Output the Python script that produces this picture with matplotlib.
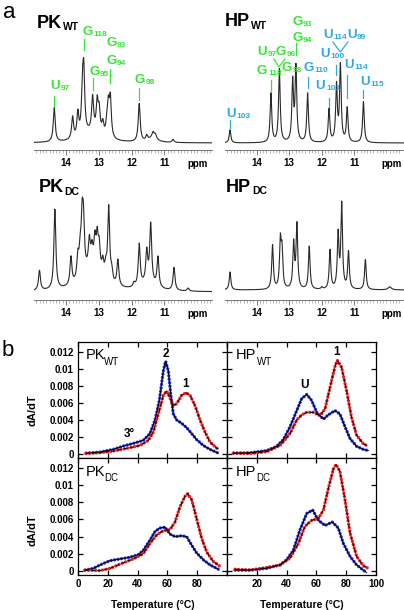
import matplotlib
matplotlib.use('Agg')
import matplotlib.pyplot as plt
import numpy as np

plt.rcParams['font.family'] = ['Liberation Sans', 'DejaVu Sans']

W, H = 404, 610
GREEN = '#33e633'
CYAN = '#2fa9e2'
BLUE = '#2233e6'
RED = '#ee2020'

# ---- imino proton peak tables (ppm, height above baseline, half width)
pkwt_ppm = [14.36, 13.80, 13.64, 13.50, 13.46, 13.19, 13.05, 12.99, 12.88, 12.76, 12.71, 12.65,
            11.77, 11.54, 11.35, 11.28, 10.74, 13.2, 11.35]
pkwt_h = [34, 22, 24, 40, 58, 34, 30, 22, 12, 10, 30, 38, 38, 5, 5, 4, 3, 10, 5]
pkwt_w = [0.035] * 17 + [0.35, 0.15]

hpwt_ppm = [14.82, 13.56, 13.30, 12.89, 12.79, 12.43, 11.77, 11.54, 11.42, 11.21, 10.71]
hpwt_h = [13, 49, 73, 60, 74, 49, 33, 56, 76, 34, 41]
hpwt_w = [0.03] * 11

pkdc_ppm = [14.81, 14.34, 13.85, 13.64, 13.57, 13.51, 13.47, 13.29, 13.21, 13.12, 13.05, 12.99,
            12.88, 12.79, 12.70, 12.61, 12.42, 11.93, 11.77, 11.54, 11.42, 11.20, 10.71, 10.28,
            13.2, 11.5]
pkdc_h = [20, 80, 28, 22, 24, 50, 46, 26, 16, 26, 30, 24, 14, 12, 74, 10, 26, 4, 42, 30, 58, 30, 23, 3,
          24, 8]
pkdc_w = [0.035] * 24 + [0.35, 0.25]

hpdc_ppm = [14.82, 13.51, 13.27, 13.22, 12.86, 12.76, 12.38, 11.99, 11.74, 11.49, 11.38, 11.17,
            10.65, 9.90]
hpdc_h = [18, 44, 46, 36, 45, 64, 43, 2, 39, 54, 84, 37, 30, 3]
hpdc_w = [0.03] * 13 + [0.06]

# ---- derivative melting profiles (temperature, dA/dT)
pkwt_blue_T = [5.4, 14.8, 23.7, 30.4, 37, 43.8, 48.3, 51.7, 54.6, 57.3, 58.8, 60.6, 62.2, 64,
               66.2, 69.6, 72.9, 76.3, 79.6, 84.1, 88.6, 94.2]
pkwt_blue = [0.0001, 0.00023, 0.00054, 0.00093, 0.00124, 0.0016, 0.0024, 0.004, 0.0063, 0.0098,
             0.0109, 0.0098, 0.0071, 0.0047, 0.004, 0.0036, 0.0031, 0.0024, 0.0017, 0.001,
             0.00054, 0.0001]
pkwt_red_T = [5.4, 14.8, 23.7, 32.7, 41.6, 47.2, 50.6, 53.9, 57.3, 59.5, 61.7, 64, 66.2, 69.6,
              72.5, 75.2, 78.5, 81.9, 85.2, 88.6, 93, 94.9]
pkwt_red = [0.00005, 0.00015, 0.00035, 0.00066, 0.001, 0.0016, 0.0026, 0.0047, 0.0069, 0.0074,
            0.0066, 0.0057, 0.0059, 0.0069, 0.0072, 0.0069, 0.0057, 0.004, 0.0026, 0.0014,
            0.0007, 0.0005]

hpwt_blue_T = [4.3, 15.4, 26.6, 33.3, 37.8, 42.3, 46.8, 50.1, 53.5, 56.8, 60.2, 64.7, 68, 72.5,
               75.8, 79.2, 82.6, 87, 91.5, 94.9]
hpwt_blue = [0.0001, 0.00015, 0.0004, 0.0009, 0.0017, 0.0032, 0.0051, 0.0065, 0.007, 0.0063,
             0.0049, 0.0041, 0.0046, 0.0051, 0.0047, 0.0032, 0.0018, 0.0009, 0.00054, 0.0004]
hpwt_red_T = [4.3, 15.4, 26.6, 35.6, 42.3, 46.8, 50.1, 53.5, 57.9, 62.4, 65.8, 69.1, 72.5, 74,
              76.9, 80.3, 83.6, 87, 91.5, 94.9]
hpwt_red = [0.0001, 0.00005, 0.00027, 0.001, 0.0024, 0.004, 0.0046, 0.0049, 0.0049, 0.0045,
            0.0053, 0.0078, 0.0103, 0.011, 0.0102, 0.0074, 0.0043, 0.0022, 0.0012, 0.0009]

pkdc_blue_T = [4.7, 10.3, 14.8, 21.5, 28.2, 34.9, 40.5, 43.8, 48.3, 51.7, 55, 58.4, 61.7, 65.1,
               69.6, 72.9, 76.3, 79.6, 84.1, 88.6, 94.2]
pkdc_blue = [0.0001, 0.0003, 0.0007, 0.0012, 0.0014, 0.0016, 0.0019, 0.0024, 0.0036, 0.0046,
             0.005, 0.0051, 0.0043, 0.004, 0.0041, 0.004, 0.003, 0.0021, 0.0013, 0.0007, 0.0002]
pkdc_red_T = [4.7, 14.8, 21.5, 28.2, 37.1, 43.8, 48.3, 52.8, 57.3, 61.7, 65.1, 68.5, 71.8, 73.6,
              76.3, 79.6, 83, 86.4, 90.8, 94.9]
pkdc_red = [0.0001, 0.00004, 0.0003, 0.0008, 0.0014, 0.002, 0.0032, 0.0042, 0.0047, 0.0048,
            0.0057, 0.0075, 0.0087, 0.009, 0.0083, 0.0061, 0.0038, 0.0022, 0.0011, 0.0006]

hpdc_blue_T = [5.4, 15.4, 26.6, 35.6, 40, 44.5, 49, 53.5, 57.5, 61.3, 65.8, 70.7, 74.7, 78.1,
               82.6, 87, 93.7]
hpdc_blue = [0.0001, 0.0001, 0.0003, 0.0007, 0.0013, 0.0024, 0.0048, 0.0067, 0.0071, 0.0059,
             0.0053, 0.0057, 0.005, 0.0032, 0.0017, 0.0007, -0.0002]
hpdc_red_T = [5.4, 15.4, 26.6, 35.6, 42.3, 47.9, 52.3, 56.8, 61.3, 64.7, 68, 71.4, 73.2, 75.8,
              79.2, 82.6, 87, 91.5, 94.9]
hpdc_red = [0.0002, 0.0001, 0.0004, 0.0007, 0.0015, 0.0032, 0.0052, 0.0059, 0.0061, 0.0071,
            0.0096, 0.0119, 0.0124, 0.0116, 0.0083, 0.0044, 0.0017, 0.0006, 0.0003]

temp_ticks = [0, 20, 40, 60, 80, 100]
dadt_ticks = [0, 0.002, 0.004, 0.006, 0.008, 0.01, 0.012]
dadt_labels = ['0', '0.002', '0.004', '0.006', '0.008', '0.01', '0.012']

# letter widths (em) of Arial-like bold capitals, used to hang the subscripts
EM = {'G': 0.778, 'U': 0.722, 'PK': 1.389, 'HP': 1.389}


def box(x0, y0, x1, y1):
    return [x0 / W, 1 - y1 / H, (x1 - x0) / W, (y1 - y0) / H]


def spectrum(ppm, centers, heights, widths):
    y = np.zeros_like(ppm)
    for c, h, w in zip(centers, heights, widths):
        y += h * w ** 2 / ((ppm - c) ** 2 + w ** 2)
    return y


def nmr_axes(rect, xlim, ylim, centers, heights, widths, ppm_x):
    ax = fig.add_axes(rect)
    grid = np.linspace(xlim[0], xlim[1], 2500)
    ax.plot(grid, spectrum(grid, centers, heights, widths), color='#2a2a2a', lw=0.8)
    ax.set_xlim(xlim)
    ax.set_ylim(ylim)
    for s in ['top', 'left', 'right']:
        ax.spines[s].set_visible(False)
    ax.spines['bottom'].set_color('#777777')
    ax.spines['bottom'].set_linewidth(0.7)
    ax.set_yticks([])
    ax.set_xticks([14, 13, 12, 11])
    ax.set_xticks(np.arange(9.6, 15.0, 0.1), minor=True)
    ax.tick_params(axis='x', which='major', direction='out', length=3.5, width=0.7,
                   color='#777777', labelsize=7, pad=2.5)
    ax.tick_params(axis='x', which='minor', direction='out', length=1.8, width=0.5,
                   color='#999999')
    for t in ax.get_xticklabels():
        t.set_fontweight('bold')
    ax.annotate('ppm', xy=(ppm_x, 0), xycoords=ax.get_xaxis_transform(),
                xytext=(0, -6.2), textcoords='offset points', ha='center', va='top',
                fontsize=7, fontweight='bold')
    ax.patch.set_visible(False)
    return ax


def tag(ax, x, y, main, sub, color, size=9.5, subsize=6):
    ax.text(x, y, main, color=color, fontsize=size, fontweight='bold',
            ha='left', va='center', clip_on=False)
    ax.annotate(sub, xy=(x, y), xycoords='data',
                xytext=(EM[main] * size + 0.6, -0.22 * size), textcoords='offset points',
                color=color, fontsize=subsize, fontweight='bold', ha='left', va='center')


def stem(ax, x, y0, y1, color):
    ax.plot([x, x], [y0, y1], color=color, lw=0.9, clip_on=False)


def vee(ax, xa, xm, xb, ytop, ybot, color):
    ax.plot([xa, xm, xb], [ytop, ybot, ytop], color=color, lw=0.9, clip_on=False)


fig = plt.figure(figsize=(W / 100, H / 100), dpi=100)

# ---------------- panel a
ax1 = nmr_axes(box(34, 0, 212, 150), (14.976, 9.552), (-7, 143), pkwt_ppm, pkwt_h, pkwt_w, 10.0)
ax2 = nmr_axes(box(225, 0, 404, 150), (14.975, 9.46), (-7, 143), hpwt_ppm, hpwt_h, hpwt_w, 9.84)
ax3 = nmr_axes(box(34, 160, 212, 300), (14.976, 9.552), (-8, 132), pkdc_ppm, pkdc_h, pkdc_w, 10.0)
ax4 = nmr_axes(box(225, 160, 404, 300), (14.975, 9.46), (-10, 130), hpdc_ppm, hpdc_h, hpdc_w, 9.84)

for ax, name, sub, x, y in [(ax1, 'PK', 'WT', 14.88, 120), (ax2, 'HP', 'WT', 14.97, 121),
                            (ax3, 'PK', 'DC', 14.84, 104), (ax4, 'HP', 'DC', 14.94, 103)]:
    tag(ax, x, y, name, sub, 'black', size=13, subsize=7.5)

# PK WT assignments
tag(ax1, 14.49, 57, 'U', '97', GREEN)
stem(ax1, 14.36, 47, 37, GREEN)
tag(ax1, 13.51, 111, 'G', '118', GREEN)
stem(ax1, 13.46, 104, 93, GREEN)
tag(ax1, 13.30, 71, 'G', '95', GREEN)
stem(ax1, 13.19, 65, 53, GREEN)
tag(ax1, 12.78, 100, 'G', '93', GREEN)
tag(ax1, 12.78, 82, 'G', '94', GREEN)
stem(ax1, 12.65, 74, 60, GREEN)
tag(ax1, 11.90, 63, 'G', '98', GREEN)
stem(ax1, 11.77, 55, 43, GREEN)

# HP WT assignments
tag(ax2, 14.94, 29, 'U', '103', CYAN)
stem(ax2, 14.82, 23, 15, CYAN)
tag(ax2, 13.99, 72, 'G', '118', GREEN)
stem(ax2, 13.56, 63, 52, GREEN)
tag(ax2, 13.99, 91, 'U', '97', GREEN)
tag(ax2, 13.41, 91, 'G', '96', GREEN)
vee(ax2, 13.47, 13.31, 13.13, 84, 76, GREEN)
tag(ax2, 13.22, 75, 'G', '98', GREEN)
tag(ax2, 12.91, 121, 'G', '93', GREEN)
tag(ax2, 12.91, 105, 'G', '94', GREEN)
stem(ax2, 12.79, 100, 88, GREEN)
tag(ax2, 12.57, 75, 'G', '110', CYAN)
stem(ax2, 12.43, 66, 55, CYAN)
tag(ax2, 12.18, 57, 'U', '101', CYAN)
stem(ax2, 11.77, 45, 36, CYAN)
tag(ax2, 12.05, 89, 'U', '100', CYAN)
stem(ax2, 11.54, 78, 68, CYAN)
tag(ax2, 11.96, 108, 'U', '114', CYAN)
tag(ax2, 11.22, 108, 'U', '99', CYAN)
vee(ax2, 11.65, 11.42, 11.19, 101, 91, CYAN)
tag(ax2, 11.31, 78, 'U', '114', CYAN)
stem(ax2, 11.21, 68, 45, CYAN)
tag(ax2, 10.82, 61, 'U', '115', CYAN)
stem(ax2, 10.71, 53, 45, CYAN)

# ---------------- panel b
melts = [
    (box(78, 342, 227, 458), pkwt_blue_T, pkwt_blue, pkwt_red_T, pkwt_red, 'PK', 'WT'),
    (box(227, 342, 376, 458), hpwt_blue_T, hpwt_blue, hpwt_red_T, hpwt_red, 'HP', 'WT'),
    (box(78, 458, 227, 575), pkdc_blue_T, pkdc_blue, pkdc_red_T, pkdc_red, 'PK', 'DC'),
    (box(227, 458, 376, 575), hpdc_blue_T, hpdc_blue, hpdc_red_T, hpdc_red, 'HP', 'DC'),
]
axes_b = []
for i, (rect, bt, bv, rt, rv, name, sub) in enumerate(melts):
    ax = fig.add_axes(rect)
    ax.plot(bt, bv, color=BLUE, lw=2.4, ls=(0, (0.05, 1.0)), dash_capstyle='round', zorder=2)
    ax.plot(rt, rv, color=RED, lw=2.4, ls=(0, (0.05, 1.0)), dash_capstyle='round', zorder=2)
    ax.plot(bt, bv, color='black', lw=0.7, zorder=3)
    ax.plot(rt, rv, color='black', lw=0.7, ls=(0, (4, 2.5)), zorder=3)
    ax.set_xlim(0, 100)
    ax.set_ylim(-0.00047, 0.01316)
    ax.set_xticks(temp_ticks)
    ax.set_yticks(dadt_ticks)
    ax.tick_params(direction='in', top=True, right=True, length=3.5, width=0.9, labelsize=7, pad=3)
    for s in ax.spines.values():
        s.set_linewidth(0.9)
    col = i % 2
    row = i // 2
    if col == 0:
        ax.set_yticklabels(dadt_labels, fontweight='bold')
        ax.set_ylabel('dA/dT', fontsize=8, fontweight='bold')
        ax.yaxis.set_label_coords(-0.275, 0.41 if row == 0 else 0.385)
    else:
        ax.set_yticklabels([])
    if row == 1:
        if col == 0:
            ax.set_xticklabels(['0', '20', '40', '60', '80', ''], fontweight='bold')
        else:
            ax.set_xticklabels(['', '20', '40', '60', '80', '100'], fontweight='bold')
        ax.set_xlabel('Temperature (°C)', fontsize=7.5, fontweight='bold', labelpad=8)
    else:
        ax.set_xticklabels([])
    tx = 0.054 if col == 0 else 0.058
    ax.text(tx, 0.885 if row == 0 else 0.88, name, transform=ax.transAxes, fontsize=10.5,
            ha='left', va='center')
    ax.text(tx + 0.12 + (0.02 if col == 1 else 0), 0.83, sub, transform=ax.transAxes,
            fontsize=7, ha='left', va='center')
    axes_b.append(ax)

axes_b[0].text(59, 0.01174, '2', fontsize=8.5, fontweight='bold', ha='center', va='center')
axes_b[0].text(72.5, 0.00826, '1', fontsize=8.5, fontweight='bold', ha='center', va='center')
axes_b[0].text(34.2, 0.0023, '3°', fontsize=8.5, fontweight='bold', ha='center', va='center')
axes_b[1].text(52.3, 0.00814, 'U', fontsize=8.5, fontweight='bold', ha='center', va='center')
axes_b[1].text(73.8, 0.012, '1', fontsize=8.5, fontweight='bold', ha='center', va='center')

fig.text(3 / W, 1 - 12 / H, 'a', fontsize=16, va='center', ha='left')
fig.text(2 / W, 1 - 350 / H, 'b', fontsize=16, va='center', ha='left')

fig.savefig('out.png', dpi=100)
